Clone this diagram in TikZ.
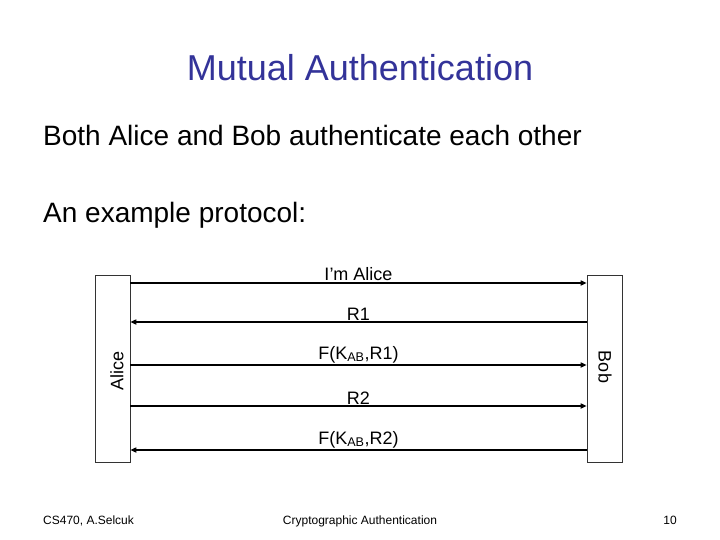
\documentclass[tikz,border=0pt]{standalone}
\usepackage{fontspec}
\setmainfont{Liberation Sans}
\usetikzlibrary{arrows.meta}
\definecolor{titleblue}{RGB}{51,51,153}
\begin{document}
\begin{tikzpicture}[x=1pt,y=-1pt,
  party/.style={draw=black!80, line width=0.6pt, fill=white, minimum width=35pt, minimum height=187pt, inner sep=0pt},
  msg/.style={line width=1.6pt, -{Triangle[length=6pt,width=5pt]}},
  lbl/.style={font=\fontsize{18}{21}\selectfont, inner sep=1.2pt, above},
  foot/.style={font=\fontsize{12}{14}\selectfont, inner sep=0pt, anchor=base}]
\useasboundingbox (0,0) rectangle (720,540);
\node[text=titleblue, font=\fontsize{36}{40}\selectfont, inner sep=0pt] (title) at (360,68) {Mutual Authentication};
\node[anchor=west, font=\fontsize{28}{32}\selectfont, inner sep=0pt] (l1) at (43,135) {Both Alice and Bob authenticate each other};
\node[anchor=west, font=\fontsize{28}{32}\selectfont, inner sep=0pt] (l2) at (43,215) {An example protocol:};
\node[party] (alice) at (112.5,369) {};
\node[party] (bob) at (604.5,369) {};
\node[rotate=90, font=\fontsize{18}{21}\selectfont, inner sep=0pt] (at) at (117,371) {Alice};
\node[rotate=-90, font=\fontsize{18}{21}\selectfont, inner sep=0pt] (bt) at (605,367) {Bob};
\draw[msg] (alice.east |- 0,283) -- node[lbl] {I’m Alice} (bob.west |- 0,283);
\draw[msg] (bob.west |- 0,322) -- node[lbl] {R1} (alice.east |- 0,322);
\draw[msg] (alice.east |- 0,365) -- node[lbl] {F(K\textsubscript{AB},R1)} (bob.west |- 0,365);
\draw[msg] (alice.east |- 0,406) -- node[lbl] {R2} (bob.west |- 0,406);
\draw[msg] (bob.west |- 0,450) -- node[lbl] {F(K\textsubscript{AB},R2)} (alice.east |- 0,450);
\node[foot, anchor=base west] (f1) at (43,524) {CS470, A.Selcuk};
\node[foot] (f2) at (360,524) {Cryptographic Authentication};
\node[foot] (f3) at (670,524) {10};
\end{tikzpicture}
\end{document}
